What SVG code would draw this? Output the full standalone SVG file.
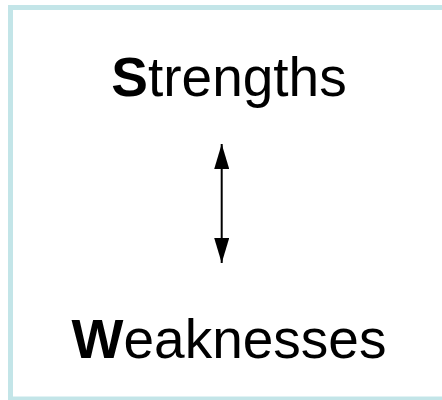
<svg xmlns="http://www.w3.org/2000/svg" width="442" height="400" viewBox="0 0 442 400">
<style>
.lbl{font-family:"Liberation Sans",Arial,sans-serif;font-size:55px;fill:#000}
.cap{font-weight:bold}
</style>
<defs>
<marker id="ah" viewBox="0 0 25 15" refX="25" refY="7.5" markerWidth="25" markerHeight="15" markerUnits="userSpaceOnUse" orient="auto-start-reverse">
<path d="M0,0 L25,7.5 L0,15 Z" fill="#000"/>
</marker>
</defs>
<rect x="0" y="0" width="442" height="400" fill="#fff"/>
<rect x="10.5" y="7.5" width="440" height="391.5" fill="none" stroke="#c3e5e8" stroke-width="5"/>
<g id="strengths"><text class="lbl" x="229" y="96" text-anchor="middle"><tspan class="cap">S</tspan>trengths</text></g>
<g id="weaknesses"><text class="lbl" x="229" y="358" text-anchor="middle"><tspan class="cap">W</tspan>eaknesses</text></g>
<g id="connectors"><line x1="221.7" y1="144" x2="221.7" y2="263" stroke="#000" stroke-width="2" marker-start="url(#ah)" marker-end="url(#ah)"/></g>
</svg>
